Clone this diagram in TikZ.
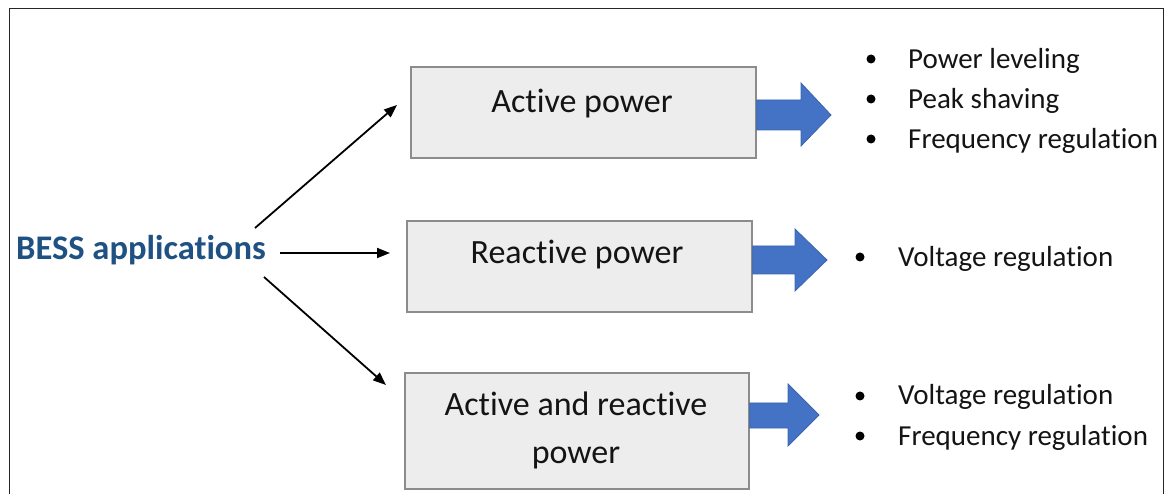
\documentclass[tikz,border=0pt]{standalone}
\usepackage{fontspec}
\setmainfont{Carlito}[Ligatures={NoCommon}, RawFeature={-liga;-clig}]
\usetikzlibrary{arrows.meta}
\definecolor{boxfill}{HTML}{EDEDED}
\definecolor{boxline}{HTML}{8C8C8C}
\definecolor{arrowblue}{HTML}{4472C4}
\definecolor{arrowline}{HTML}{3A64B0}
\definecolor{besscol}{HTML}{1F5283}
\definecolor{textcol}{HTML}{141414}
\begin{document}
\begin{tikzpicture}[x=1pt,y=-1pt,
  box/.style={draw=boxline, fill=boxfill, line width=1.3pt, inner sep=0pt},
  boxtext/.style={anchor=base, inner sep=0pt, text=textcol, font=\fontsize{34}{40}\selectfont},
  bess/.style={anchor=base west, inner sep=0pt, text=besscol, font=\fontsize{34.5}{40}\selectfont\bfseries},
  item/.style={anchor=base west, inner sep=0pt, text=textcol, font=\fontsize{29}{34}\selectfont},
  dot/.style={circle, fill=black, inner sep=0pt, minimum size=9pt},
  conn/.style={line width=1.8pt, -{Triangle[length=13pt,width=10pt]}},
  blockarrow/.style={fill=arrowblue, draw=arrowline, line width=0.8pt, line join=miter},
  frame/.style={draw=black!85, line width=1pt}
]
\useasboundingbox (0,0) rectangle (1168,494);
\fill[white] (0,0) rectangle (1168,494);
\draw[frame] (9,494) -- (9,9) -- (1163,9) -- (1163,494);

% boxes
\node[box, minimum width=345pt, minimum height=91pt] (b1) at (583.5,112.5) {};
\node[box, minimum width=345pt, minimum height=91pt] (b2) at (579.5,266.5) {};
\node[box, minimum width=344pt, minimum height=116pt] (b3) at (577,431) {};
\node[boxtext] (t1) at (582,113) {Active power};
\node[boxtext] (t2) at (577,264) {Reactive power};
\node[boxtext] (t3a) at (576,416) {Active and reactive};
\node[boxtext] (t3b) at (576,463) {power};

% source
\node[bess] (bess) at (16,260) {BESS applications};
\coordinate (s1) at (255,228);
\coordinate (s2) at (280,253);
\coordinate (s3) at (264,277);
\coordinate (e1) at (397,105);
\coordinate (e2) at (390,253);
\coordinate (e3) at (386,385);
\draw[conn] (s1) -- (e1);
\draw[conn] (s2) -- (e2);
\draw[conn] (s3) -- (e3);

% block arrows
\draw[blockarrow] (b1.east |- 0,100) -- (801,100) -- (801,83) -- (831,115) -- (801,146) -- (801,130) -- (b1.east |- 0,130) -- cycle;
\draw[blockarrow] (b2.east |- 0,246) -- (795,246) -- (795,229) -- (827,260) -- (795,291) -- (795,274) -- (b2.east |- 0,274) -- cycle;
\draw[blockarrow] (b3.east |- 0,403) -- (788,403) -- (788,384) -- (819,415) -- (788,446) -- (788,428) -- (b3.east |- 0,428) -- cycle;

% bullet lists
\node[dot] (d11) at (871,59) {};
\node[item] (i11) at (908,69) {Power leveling};
\node[dot] (d12) at (871,99) {};
\node[item] (i12) at (908,109) {Peak shaving};
\node[dot] (d13) at (871,139) {};
\node[item] (i13) at (908,149) {Frequency regulation};

\node[dot] (d21) at (860,257) {};
\node[item] (i21) at (898,267) {Voltage regulation};

\node[dot] (d31) at (860,396) {};
\node[item] (i31) at (898,405) {Voltage regulation};
\node[dot] (d32) at (860,436) {};
\node[item] (i32) at (898,445) {Frequency regulation};
\end{tikzpicture}
\end{document}
